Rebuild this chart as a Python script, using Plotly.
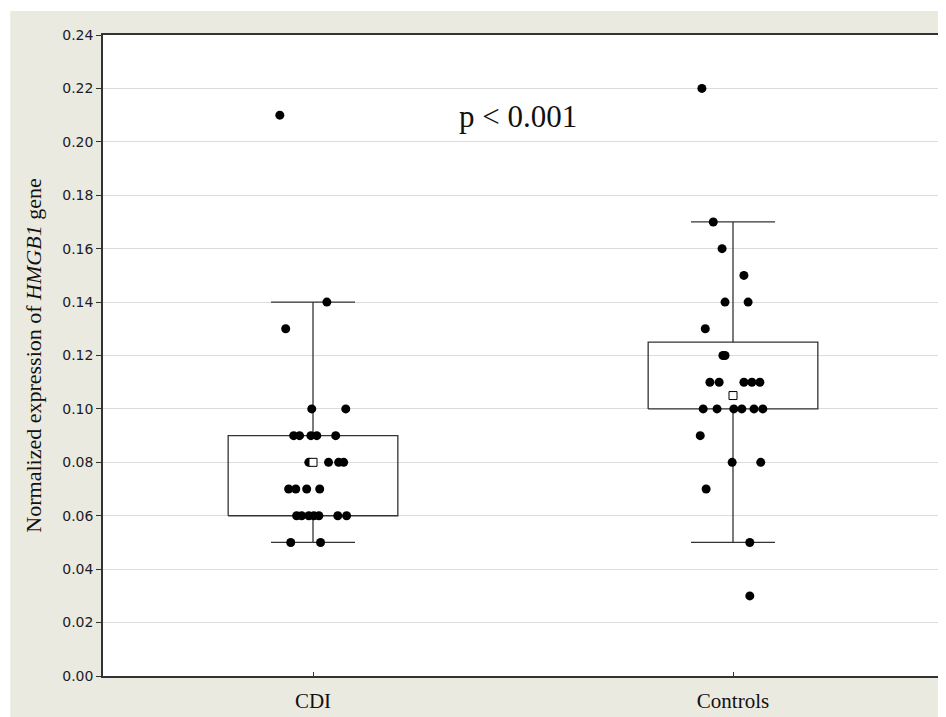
import plotly.graph_objects as go

# ---------------- data ----------------
categories = ["CDI", "Controls"]
q1 = [0.06, 0.10]
median = [0.08, 0.105]
q3 = [0.09, 0.125]
whisker_low = [0.05, 0.05]
whisker_high = [0.14, 0.17]

cdi_values = [0.21, 0.14, 0.13, 0.10, 0.10,
              0.09, 0.09, 0.09, 0.09, 0.09,
              0.08, 0.08, 0.08, 0.08,
              0.07, 0.07, 0.07, 0.07,
              0.06, 0.06, 0.06, 0.06, 0.06, 0.06, 0.06,
              0.05, 0.05]
cdi_jitter = [-0.079, 0.033, -0.065, -0.003, 0.078,
              -0.046, -0.032, -0.005, 0.009, 0.054,
              -0.010, 0.037, 0.061, 0.073,
              -0.058, -0.041, -0.015, 0.016,
              -0.039, -0.027, -0.010, 0.002, 0.014, 0.059, 0.080,
              -0.053, 0.018]

ctrl_values = [0.22, 0.17, 0.16, 0.15, 0.14, 0.14, 0.13, 0.12, 0.12,
               0.11, 0.11, 0.11, 0.11, 0.11,
               0.10, 0.10, 0.10, 0.10, 0.10, 0.10,
               0.09, 0.08, 0.08, 0.07, 0.05, 0.03]
ctrl_jitter = [-0.074, -0.047, -0.026, 0.026, -0.019, 0.036, -0.066, -0.024, -0.019,
               -0.055, -0.033, 0.026, 0.045, 0.064,
               -0.071, -0.038, 0.002, 0.021, 0.050, 0.071,
               -0.078, -0.002, 0.066, -0.064, 0.040, 0.040]

p_text = "p < 0.001"
y_title = "Normalized expression of <i>HMGB1</i> gene"
y_ticks = [0.00, 0.02, 0.04, 0.06, 0.08, 0.10, 0.12, 0.14, 0.16, 0.18, 0.20, 0.22, 0.24]

# ---------------- styles ----------------
W, H = 938, 709
ML, MR, MT, MB = 95, 1, 27, 41
BOX_HW = 0.202      # box half width (category units)
CAP_HW = 0.100      # whisker cap half width
LINE_C = "#333333"
BEIGE = "#EBEAE0"

fig = go.Figure()

# box outlines + whiskers
bx, by = [], []
for i in range(len(categories)):
    bx += [i - BOX_HW, i + BOX_HW, i + BOX_HW, i - BOX_HW, i - BOX_HW, None]
    by += [q1[i], q1[i], q3[i], q3[i], q1[i], None]
    bx += [i, i, None, i, i, None]
    by += [q3[i], whisker_high[i], None, q1[i], whisker_low[i], None]
    bx += [i - CAP_HW, i + CAP_HW, None, i - CAP_HW, i + CAP_HW, None]
    by += [whisker_high[i], whisker_high[i], None, whisker_low[i], whisker_low[i], None]
fig.add_trace(go.Scatter(x=bx, y=by, mode="lines",
                         line=dict(color=LINE_C, width=1.3),
                         hoverinfo="skip", showlegend=False))

# points
for i, (vals, jit) in enumerate([(cdi_values, cdi_jitter), (ctrl_values, ctrl_jitter)]):
    fig.add_trace(go.Scatter(x=[i + j for j in jit], y=vals, mode="markers",
                             marker=dict(color="black", size=9),
                             name=categories[i], showlegend=False))

# medians
fig.add_trace(go.Scatter(x=list(range(len(categories))), y=median, mode="markers",
                         marker=dict(symbol="square", size=8, color="white",
                                     line=dict(color="black", width=1)),
                         showlegend=False, hoverinfo="skip"))

fig.add_annotation(x=0.494, xref="paper", y=0.2095, yref="y", text=p_text,
                   showarrow=False, xanchor="center", yanchor="middle",
                   font=dict(family="Liberation Serif", size=31, color="#111111"))

# thin white strips at top and left of the canvas
pw = W - ML - MR
ph = H - MT - MB
fig.add_shape(type="rect", xref="paper", yref="paper",
              x0=(0 - ML) / pw - 0.01, x1=(W - ML) / pw + 0.01,
              y0=(H - MB - 3) / ph, y1=(H - MB) / ph + 0.01,
              fillcolor="white", line=dict(width=0), layer="below")
fig.add_shape(type="rect", xref="paper", yref="paper",
              x0=(0 - ML) / pw - 0.01, x1=(2 - ML) / pw,
              y0=(-MB) / ph - 0.01, y1=(H - MB) / ph + 0.01,
              fillcolor="white", line=dict(width=0), layer="below")

fig.update_layout(
    width=W, height=H,
    margin=dict(l=ML, r=MR, t=MT, b=MB, pad=0),
    paper_bgcolor=BEIGE, plot_bgcolor="white",
    showlegend=False,
    xaxis=dict(range=[-0.5, 1.5], tickmode="array", tickvals=[0, 1], ticktext=categories,
               ticks="inside", ticklen=4, tickcolor=LINE_C, tickwidth=1,
               ticklabelstandoff=5,
               showgrid=False, zeroline=False,
               showline=True, linecolor=LINE_C, linewidth=1.5, mirror=True,
               tickfont=dict(family="Liberation Serif", size=21, color="#111111")),
    yaxis=dict(range=[0, 0.24], tickmode="array", tickvals=y_ticks, tickformat=".2f",
               ticks="outside", ticklen=5, tickcolor=LINE_C, tickwidth=1,
               showgrid=True, gridcolor="#DCDCDC", gridwidth=1, zeroline=False,
               showline=True, linecolor=LINE_C, linewidth=1.5, mirror=True,
               tickfont=dict(family="DejaVu Sans", size=14, color="#1a1a2a"),
               title=dict(text=y_title, standoff=15,
                          font=dict(family="Liberation Serif", size=22, color="#111111"))),
)

fig.write_html("out.html")
